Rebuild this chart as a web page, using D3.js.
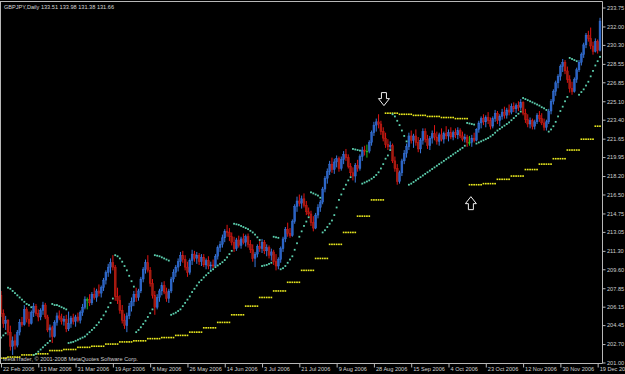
<!DOCTYPE html>
<html>
<head>
<meta charset="utf-8">
<script src="https://cdn.jsdelivr.net/npm/d3@7"></script>
<style>
html, body { margin: 0; padding: 0; background: #000; }
svg { display: block; }
</style>
</head>
<body>
<script>
// GBPJPY daily bars, 22 Feb 2006 .. 20 Dec 2006 (one row = 16 bars)
var opens = [
  207.2,205.5,204.6,204.9,203.8,202.5,203.0,202.6,203.8,204.7,204.5,205.9,205.0,204.6,205.6,206.2,
  205.5,205.2,205.8,206.3,205.2,204.0,204.2,203.4,204.7,205.3,205.1,204.8,205.0,204.1,204.6,205.1,
  204.8,205.2,204.9,205.6,206.1,206.8,206.8,206.5,207.3,207.0,207.6,207.4,207.9,208.6,209.3,209.8,
  210.2,209.8,207.1,206.7,205.8,204.9,204.4,205.3,206.2,206.6,207.3,207.0,207.6,208.7,209.6,210.2,
  209.5,208.3,207.2,206.1,207.0,207.6,208.1,207.5,206.9,207.6,208.7,209.3,209.8,210.3,210.9,210.5,
  209.8,209.3,210.4,211.0,210.6,210.9,210.3,210.7,210.0,210.4,209.9,210.0,209.9,210.8,211.6,211.9,
  212.5,213.1,213.0,212.6,212.1,211.5,212.3,211.8,212.4,212.1,212.6,211.9,211.4,210.6,211.0,211.7,
  211.5,212.1,211.3,211.6,210.9,211.2,210.3,209.9,210.5,211.5,212.4,213.3,212.9,212.7,214.0,215.4,
  215.9,215.7,216.1,215.5,214.9,214.7,213.9,213.4,214.6,215.3,215.8,217.0,218.0,218.6,219.3,218.8,
  219.5,219.8,218.9,219.7,220.2,219.9,219.1,218.5,218.2,219.2,218.9,220.0,220.6,220.5,220.5,221.3,
  222.2,222.9,223.2,223.0,222.3,221.7,221.1,220.9,221.0,219.6,218.9,217.7,218.5,219.6,220.3,220.9,
  221.9,221.5,221.9,221.3,220.7,221.5,222.3,221.6,221.0,221.7,222.1,221.8,221.4,222.0,221.6,222.1,
  221.9,222.2,221.8,222.2,222.0,222.4,221.9,221.6,221.8,221.3,221.3,221.7,221.5,222.5,223.1,223.5,
  223.2,223.6,223.3,222.8,223.5,224.0,223.3,223.7,224.1,223.8,224.3,224.1,224.6,224.4,224.7,224.5,
  225.0,224.0,223.4,223.0,223.3,222.8,223.2,223.8,223.5,223.1,222.7,223.2,224.2,225.1,226.0,226.8,
  227.4,228.3,228.7,227.9,227.1,226.3,226.0,227.1,228.0,228.7,229.4,230.3,231.2,230.9,230.2,229.7,
  230.6,229.8
];
var highs = [
  207.6,205.9,205.3,205.0,204.4,203.4,203.6,204.0,205.0,205.2,206.3,206.1,205.7,205.8,206.5,206.4,
  205.9,206.0,206.6,206.5,205.4,204.5,204.4,204.9,205.6,205.8,205.5,205.3,205.4,205.7,205.3,205.5,
  205.4,205.6,205.8,206.4,207.1,207.0,207.3,207.5,207.9,207.8,208.2,208.1,208.8,209.5,210.1,210.6,
  210.9,210.0,207.9,207.2,206.3,205.5,205.6,206.5,207.0,207.6,207.9,207.8,208.9,209.8,210.5,210.9,
  209.8,208.7,207.6,207.3,207.8,208.4,208.5,207.9,207.8,208.9,209.6,210.0,210.6,211.2,211.3,210.9,
  210.3,210.6,211.4,211.3,211.2,211.1,211.0,211.0,210.6,210.8,210.3,210.5,211.0,211.8,212.2,212.8,
  213.3,213.7,213.4,213.0,212.6,212.5,212.7,212.6,212.9,212.8,212.9,212.3,211.9,211.2,211.9,212.2,
  212.4,212.3,211.9,211.8,211.5,211.4,211.0,210.7,211.7,212.6,213.5,213.9,213.4,214.2,215.6,216.3,
  216.5,216.4,216.6,215.9,215.3,215.0,214.5,214.8,215.6,216.0,217.2,218.2,218.9,219.6,219.9,219.8,
  220.1,220.0,220.0,220.5,220.7,220.2,219.4,219.0,219.4,219.7,220.2,220.9,221.0,221.1,221.5,222.4,
  223.2,223.5,223.9,223.3,222.7,222.2,221.6,221.4,221.2,220.0,219.3,218.7,219.8,220.6,221.2,222.2,
  222.4,222.1,222.5,221.8,221.7,222.6,222.6,222.0,221.9,222.4,222.9,222.3,222.2,222.6,222.3,222.8,
  222.5,222.7,222.4,222.6,222.7,222.6,222.3,222.1,222.0,221.9,222.0,222.2,222.6,223.3,223.7,223.9,
  223.8,224.1,223.6,223.7,224.3,224.2,223.9,224.4,224.6,224.5,224.8,224.9,225.0,224.9,225.1,225.3,
  225.1,224.4,223.9,223.6,223.5,223.4,224.0,224.2,224.0,223.5,223.4,224.4,225.3,226.2,227.0,227.6,
  228.5,229.0,228.9,228.3,227.5,226.9,227.3,228.2,228.9,229.6,230.5,231.4,231.6,231.9,230.6,230.9,
  230.8,232.8
];
var lows = [
  205.2,204.2,204.0,203.5,202.1,201.7,202.2,202.4,203.5,204.3,204.4,204.7,204.3,204.5,205.2,205.3,
  204.8,204.9,205.4,205.0,203.8,203.3,202.8,203.3,204.4,204.9,204.5,204.4,203.8,203.9,204.2,204.5,
  204.3,204.7,204.6,205.3,205.9,205.9,206.2,206.3,206.8,206.6,207.1,207.0,207.6,208.2,208.9,209.2,
  209.5,206.7,206.4,205.5,204.6,204.1,203.8,205.0,205.7,206.2,206.6,206.7,207.4,208.4,209.2,209.3,
  208.0,206.9,205.4,205.9,206.6,207.2,207.3,206.6,206.5,207.4,208.4,208.9,209.4,209.9,210.2,209.5,
  208.9,209.1,210.0,210.3,210.1,210.0,209.9,209.8,209.6,209.6,209.5,209.7,209.9,210.5,211.2,211.6,
  212.1,212.6,212.2,211.8,211.2,211.3,211.6,211.5,211.9,211.7,211.6,211.1,210.3,209.8,210.7,211.2,
  211.1,211.0,210.8,210.6,210.4,210.0,209.5,209.6,210.2,211.2,212.1,212.6,212.5,212.6,213.8,214.9,
  215.4,215.2,215.3,214.6,214.5,213.6,213.1,213.3,214.3,214.9,215.6,216.7,217.5,218.3,218.5,218.4,
  219.0,218.6,218.7,219.3,219.6,218.9,218.2,217.8,217.6,218.6,218.7,219.6,220.1,219.9,220.3,221.0,
  221.9,222.3,222.6,222.0,221.4,220.8,220.6,220.7,219.4,218.6,217.4,217.5,218.2,219.3,219.9,220.6,
  221.2,220.8,221.0,220.4,220.3,221.1,221.3,220.7,220.6,221.2,221.5,221.1,221.0,221.4,221.2,221.6,
  221.4,221.6,221.5,221.7,221.6,221.7,221.4,221.3,220.9,221.0,220.9,221.3,221.4,222.2,222.6,222.9,
  222.7,223.0,222.5,222.6,223.2,223.0,222.8,223.4,223.5,223.5,223.8,223.9,224.1,224.0,224.2,224.3,
  223.8,223.1,222.7,222.6,222.5,222.5,223.0,223.2,222.9,222.4,222.4,223.0,223.9,224.8,225.6,226.3,
  227.0,227.8,227.6,226.8,225.9,225.7,225.9,226.8,227.8,228.4,229.1,230.0,230.6,229.9,229.4,229.6,
  229.5,229.7
];
var closes = [
  205.5,204.6,204.9,203.8,202.5,203.0,202.6,203.8,204.7,204.5,205.9,205.0,204.6,205.6,206.2,205.5,
  205.2,205.8,206.3,205.2,204.0,204.2,203.4,204.7,205.3,205.1,204.8,205.0,204.1,204.6,205.1,204.8,
  205.2,204.9,205.6,206.1,206.8,206.8,206.5,207.3,207.0,207.6,207.4,207.9,208.6,209.3,209.8,210.2,
  209.8,207.1,206.7,205.8,204.9,204.4,205.3,206.2,206.6,207.3,207.0,207.6,208.7,209.6,210.2,209.5,
  208.3,207.2,206.1,207.0,207.6,208.1,207.5,206.9,207.6,208.7,209.3,209.8,210.3,210.9,210.5,209.8,
  209.3,210.4,211.0,210.6,210.9,210.3,210.7,210.0,210.4,209.9,210.0,209.9,210.8,211.6,211.9,212.5,
  213.1,213.0,212.6,212.1,211.5,212.3,211.8,212.4,212.1,212.6,211.9,211.4,210.6,211.0,211.7,211.5,
  212.1,211.3,211.6,210.9,211.2,210.3,209.9,210.5,211.5,212.4,213.3,212.9,212.7,214.0,215.4,215.9,
  215.7,216.1,215.5,214.9,214.7,213.9,213.4,214.6,215.3,215.8,217.0,218.0,218.6,219.3,218.8,219.5,
  219.8,218.9,219.7,220.2,219.9,219.1,218.5,218.2,219.2,218.9,220.0,220.6,220.5,220.5,221.3,222.2,
  222.9,223.2,223.0,222.3,221.7,221.1,220.9,221.0,219.6,218.9,217.7,218.5,219.6,220.3,220.9,221.9,
  221.5,221.9,221.3,220.7,221.5,222.3,221.6,221.0,221.7,222.1,221.8,221.4,222.0,221.6,222.1,221.9,
  222.2,221.8,222.2,222.0,222.4,221.9,221.6,221.8,221.3,221.3,221.7,221.5,222.5,223.1,223.5,223.2,
  223.6,223.3,222.8,223.5,224.0,223.3,223.7,224.1,223.8,224.3,224.1,224.6,224.4,224.7,224.5,225.0,
  224.0,223.4,223.0,223.3,222.8,223.2,223.8,223.5,223.1,222.7,223.2,224.2,225.1,226.0,226.8,227.4,
  228.3,228.7,227.9,227.1,226.3,226.0,227.1,228.0,228.7,229.4,230.3,231.2,230.9,230.2,229.7,230.6,
  229.8,232.5
];

// daily parabolic SAR (cyan dots), one value per bar
var sarDaily = [
  203.3,203.5,203.7,207.9,207.8,207.6,207.4,207.2,207.0,206.8,206.6,206.4,206.3,206.1,201.7,201.8,
  202.0,202.2,202.4,202.6,202.8,203.0,206.4,206.3,206.3,206.2,206.1,206.0,205.9,202.8,202.85,202.9,
  203.0,203.1,203.2,203.3,203.4,203.6,203.8,204.0,204.2,204.45,204.7,205.0,205.35,205.7,206.1,206.5,
  206.9,210.9,210.8,210.6,210.3,209.9,209.5,209.0,208.5,208.0,203.8,204.0,204.25,204.55,204.85,205.2,
  205.55,205.9,210.9,210.85,210.8,210.7,210.6,210.5,210.4,205.4,205.5,205.6,205.75,205.9,206.2,206.5,
  206.8,207.1,207.5,207.8,208.1,208.4,208.6,208.85,209.05,209.25,209.45,209.6,209.8,209.95,210.1,210.25,
  210.45,210.7,211.0,211.3,213.8,213.75,213.7,213.6,213.5,213.4,213.3,213.15,213.0,212.8,212.55,212.3,
  209.9,209.95,210.0,210.1,210.2,212.6,212.55,212.5,209.6,209.7,209.9,210.2,210.5,210.8,211.4,212.0,
  212.6,213.1,213.6,214.0,214.4,216.7,216.6,216.5,216.4,216.2,213.0,213.2,213.5,213.8,214.1,214.6,
  215.3,216.0,216.5,217.0,217.4,217.8,218.1,220.7,220.65,220.6,220.55,217.5,217.6,217.7,217.8,217.95,
  218.1,218.3,218.55,218.9,219.3,219.8,220.1,220.6,223.9,223.7,223.3,222.9,222.4,221.9,221.4,217.4,
  217.5,217.65,217.8,217.95,218.1,218.25,218.4,218.55,218.7,218.85,219.0,219.15,219.3,219.45,219.6,219.75,
  219.9,220.05,220.2,220.35,220.5,220.65,220.8,221.0,223.1,223.05,223.0,222.95,221.2,221.3,221.4,221.5,
  221.6,221.7,221.85,222.0,222.2,222.4,222.55,222.7,222.85,223.0,223.15,223.35,223.55,223.75,223.95,224.15,
  225.4,225.3,225.2,225.1,225.0,224.9,224.8,224.7,224.55,224.45,224.3,222.3,222.5,222.8,223.2,223.7,
  224.2,224.6,225.1,225.5,229.1,229.0,228.9,228.8,225.7,225.95,226.2,226.55,226.9,227.4,227.9,228.4,
  228.8,229.2
];

// weekly parabolic SAR (yellow dots), one value per trading week
var sarWeekly = [
  201.4,201.5,201.7,201.8,202.1,202.2,202.4,202.5,202.7,202.9,203.0,203.2,203.3,203.5,203.8,204.2,
  204.7,205.4,206.2,207.0,207.6,208.4,209.5,210.6,211.9,213.0,214.5,216.0,224.0,223.9,223.8,223.7,
  223.6,223.5,217.4,217.5,217.9,218.2,218.8,219.3,219.8,220.6,221.6,222.8
];

var dateLabels = ["22 Feb 2006","13 Mar 2006","31 Mar 2006","19 Apr 2006","8 May 2006","26 May 2006",
  "14 Jun 2006","3 Jul 2006","21 Jul 2006","9 Aug 2006","28 Aug 2006","15 Sep 2006","4 Oct 2006",
  "23 Oct 2006","12 Nov 2006","30 Nov 2006","19 Dec 2006"];
var dateLabelBars = [0,16,32,48,64,80,96,112,128,144,160,176,192,208,224,240,256];
var priceTicks = [233.75,232.00,230.30,228.55,226.85,225.10,223.40,221.65,219.95,218.20,
  216.50,214.75,213.05,211.30,209.60,207.85,206.15,204.45,202.70,201.00];

// weekly SAR flip markers
var signalBars = [164.3, 201.6];
var signalPrices = [224.7, 216.3];
var signalDirs = ["down", "up"];

var W = 625, H = 374;
var axisX = 602.5, axisY = 363.5;
var fontFam = "'Liberation Sans', Arial, sans-serif";

var svg = d3.select("body").append("svg")
  .attr("width", W)
  .attr("height", H);

svg.append("rect").attr("width", W).attr("height", H).attr("fill", "#000");

svg.append("defs").append("clipPath").attr("id", "plotclip")
  .append("rect").attr("x", 0).attr("y", 2).attr("width", axisX).attr("height", axisY - 2);

var x = d3.scaleLinear().domain([0, closes.length - 1]).range([1, 600]);
var y = d3.scaleLinear().domain([201, 233.75]).range([362.5, 7.5]);

// header and copyright (drawn under the series, like the terminal does)
svg.append("text")
  .attr("x", 4).attr("y", 8.5)
  .attr("font-family", fontFam).attr("font-size", "5.6px")
  .attr("fill", "#d8d8d8")
  .text("GBPJPY,Daily  133.51 133.98 131.38 131.66");
svg.append("text")
  .attr("x", 3).attr("y", 361)
  .attr("font-family", fontFam).attr("font-size", "5.6px")
  .attr("fill", "#cfcfcf")
  .text("MetaTrader, \u00A9 2001-2008 MetaQuotes Software Corp.");

var plot = svg.append("g").attr("clip-path", "url(#plotclip)");

var bars = closes.map(function(c, i) {
  return { i: i, o: opens[i], h: highs[i], l: lows[i], c: c };
});

function wickColor(d) {
  if (d.c > d.o) return "#3a78dc";
  if (d.c < d.o) return "#e01414";
  return "#20c020";
}
function bodyColor(d) {
  if (d.c > d.o) return "#2a62c6";
  if (d.c < d.o) return "#9c2010";
  return "#20c020";
}

// candles
plot.selectAll("line.wick")
  .data(bars)
  .enter()
  .append("line")
  .attr("class", "wick")
  .attr("x1", function(d) { return x(d.i); })
  .attr("x2", function(d) { return x(d.i); })
  .attr("y1", function(d) { return y(d.h); })
  .attr("y2", function(d) { return y(d.l); })
  .attr("stroke", wickColor)
  .attr("stroke-width", 1);

plot.selectAll("rect.body")
  .data(bars)
  .enter()
  .append("rect")
  .attr("class", "body")
  .attr("x", function(d) { return x(d.i) - 0.95; })
  .attr("width", 1.9)
  .attr("y", function(d) { return y(Math.max(d.o, d.c)); })
  .attr("height", function(d) { return Math.max(0.8, Math.abs(y(d.o) - y(d.c))); })
  .attr("fill", bodyColor)
  .attr("stroke", wickColor)
  .attr("stroke-width", 0.4);

// weekly SAR: same value across each week's bars
plot.selectAll("rect.wsar")
  .data(bars)
  .enter()
  .append("rect")
  .attr("class", "wsar")
  .attr("x", function(d) { return x(d.i) - 0.85; })
  .attr("y", function(d) { return y(sarWeekly[Math.floor((d.i + 3) / 6)]) - 0.8; })
  .attr("width", 1.7)
  .attr("height", 1.6)
  .attr("fill", "#e8e81e");

// daily SAR
plot.selectAll("rect.dsar")
  .data(sarDaily)
  .enter()
  .append("rect")
  .attr("class", "dsar")
  .attr("x", function(d, i) { return x(i) - 0.9; })
  .attr("y", function(d) { return y(d) - 0.9; })
  .attr("width", 1.8)
  .attr("height", 1.8)
  .attr("fill", "#5ccfae");

// hollow arrows
var arrowDown = "M-2.5,-13 L2.5,-13 L2.5,-7 L5.5,-7 L0,0 L-5.5,-7 L-2.5,-7 Z";
var arrowUp = "M-2.5,13 L2.5,13 L2.5,7 L5.5,7 L0,0 L-5.5,7 L-2.5,7 Z";
plot.selectAll("path.signal")
  .data(signalBars)
  .enter()
  .append("path")
  .attr("class", "signal")
  .attr("transform", function(d, k) { return "translate(" + x(d) + "," + y(signalPrices[k]) + ")"; })
  .attr("d", function(d, k) { return signalDirs[k] == "down" ? arrowDown : arrowUp; })
  .attr("fill", "#000")
  .attr("stroke", "#f0f0f0")
  .attr("stroke-width", 1);

// frame
var frame = svg.append("g").attr("stroke", "#b8b8b8").attr("stroke-width", 1);
frame.append("line").attr("x1", 0).attr("x2", axisX).attr("y1", 1.5).attr("y2", 1.5);
frame.append("line").attr("x1", 0.5).attr("x2", 0.5).attr("y1", 1.5).attr("y2", axisY);
frame.append("line").attr("x1", axisX).attr("x2", axisX).attr("y1", 1.5).attr("y2", axisY);
frame.append("line").attr("x1", 0).attr("x2", axisX).attr("y1", axisY).attr("y2", axisY);

// price axis
var yAxis = d3.axisRight(y)
  .tickValues(priceTicks)
  .tickSize(3)
  .tickSizeOuter(0)
  .tickFormat(d3.format(".2f"));
var gy = svg.append("g")
  .attr("transform", "translate(" + axisX + ",0)")
  .call(yAxis);
gy.select(".domain").remove();
gy.attr("font-family", fontFam).attr("font-size", 5.6).attr("color", "#d0d0d0");
gy.selectAll(".tick line").attr("stroke", "#b8b8b8");
gy.selectAll(".tick text").attr("x", 4.5);

// time axis
var xAxis = d3.axisBottom(x)
  .tickValues(dateLabelBars)
  .tickSize(4)
  .tickSizeOuter(0)
  .tickFormat(function(d, k) { return dateLabels[k]; });
var gx = svg.append("g")
  .attr("transform", "translate(0," + axisY + ")")
  .call(xAxis);
gx.select(".domain").remove();
gx.attr("font-family", fontFam).attr("font-size", 5.6).attr("color", "#d0d0d0");
gx.selectAll(".tick line").attr("stroke", "#b8b8b8");
gx.selectAll(".tick text").attr("text-anchor", "start").attr("x", 1.5).attr("y", 4);
</script>
</body>
</html>
